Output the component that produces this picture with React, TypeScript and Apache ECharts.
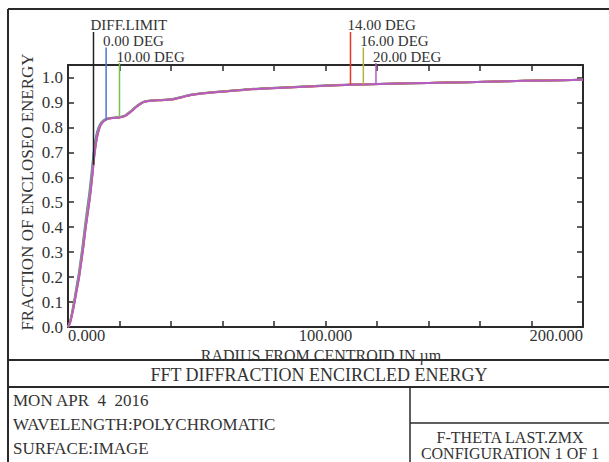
import React, { useEffect, useRef } from "react";
import * as echarts from "echarts";

// Radius from centroid (µm)
const radius = [0, 0.8, 1.6, 2.5, 3.4, 4.3, 5.0, 5.7, 6.3, 6.9, 7.6, 8.3, 9.0, 9.7, 10.4, 11.3, 12.3, 13.3, 14.6, 16, 18, 20, 22, 23.5, 25, 26.3, 28, 29.5, 31.5, 33.5, 36, 39, 41, 44, 46.5, 49, 53, 57, 62, 68, 75, 87.5, 100, 110, 125, 140, 155, 170, 185, 200];

// Fraction of enclosed energy, on-axis field (0.00 DEG)
const energy0 = [0, 0.022, 0.06, 0.112, 0.168, 0.222, 0.275, 0.33, 0.38, 0.43, 0.485, 0.54, 0.605, 0.675, 0.735, 0.782, 0.81, 0.824, 0.833, 0.837, 0.839, 0.841, 0.847, 0.858, 0.871, 0.883, 0.895, 0.903, 0.907, 0.909, 0.91, 0.912, 0.915, 0.922, 0.929, 0.933, 0.938, 0.942, 0.946, 0.951, 0.956, 0.962, 0.968, 0.972, 0.975, 0.978, 0.981, 0.985, 0.988, 0.991];
// 10.00 DEG
const energy10 = [0, 0.02, 0.056, 0.105, 0.158, 0.21, 0.262, 0.315, 0.365, 0.415, 0.467, 0.52, 0.582, 0.652, 0.718, 0.77, 0.805, 0.822, 0.832, 0.837, 0.839, 0.841, 0.846, 0.857, 0.87, 0.882, 0.894, 0.903, 0.907, 0.909, 0.91, 0.912, 0.914, 0.921, 0.928, 0.933, 0.938, 0.942, 0.946, 0.951, 0.956, 0.962, 0.968, 0.971, 0.975, 0.978, 0.981, 0.985, 0.988, 0.991];
// 14.00 / 16.00 DEG
const energy14 = [0, 0.018, 0.053, 0.1, 0.152, 0.203, 0.254, 0.305, 0.355, 0.405, 0.456, 0.508, 0.568, 0.638, 0.706, 0.763, 0.802, 0.82, 0.831, 0.836, 0.838, 0.84, 0.845, 0.856, 0.869, 0.881, 0.893, 0.902, 0.906, 0.908, 0.909, 0.911, 0.913, 0.92, 0.927, 0.932, 0.937, 0.941, 0.945, 0.95, 0.955, 0.961, 0.967, 0.971, 0.975, 0.978, 0.981, 0.985, 0.988, 0.991];
// 20.00 DEG
const energy20 = [0, 0.016, 0.05, 0.096, 0.147, 0.198, 0.248, 0.298, 0.348, 0.398, 0.448, 0.5, 0.56, 0.63, 0.7, 0.76, 0.8, 0.818, 0.83, 0.836, 0.838, 0.84, 0.845, 0.855, 0.868, 0.88, 0.893, 0.902, 0.906, 0.908, 0.909, 0.911, 0.913, 0.92, 0.927, 0.932, 0.937, 0.941, 0.945, 0.95, 0.955, 0.961, 0.967, 0.971, 0.975, 0.978, 0.981, 0.985, 0.988, 0.991];

const seriesNames = ["0.00 DEG", "10.00 DEG", "14.00 DEG", "16.00 DEG", "20.00 DEG"];
const seriesColors = ["#4a78d8", "#78c050", "#e8382c", "#b8b040", "#b45cc4"];

// Marker lines (label rows 0..2)
const markerNames = ["DIFF.LIMIT", "0.00 DEG", "10.00 DEG", "14.00 DEG", "16.00 DEG", "20.00 DEG"];
const markerRadius = [9.9, 14.8, 20.0, 109.7, 114.7, 119.6];
const markerEnergy = [0.65, 0.828, 0.841, 0.972, 0.973, 0.974];
const markerRow = [0, 1, 2, 0, 1, 2];
const markerColors = ["#222222", "#4a78d8", "#78c050", "#e8382c", "#b8b040", "#b45cc4"];

const yTicks = [0, 0.1, 0.2, 0.3, 0.4, 0.5, 0.6, 0.7, 0.8, 0.9, 1.0];
const xLabelValues = [0, 100, 200];

const FONT = "Liberation Serif, DejaVu Serif, serif";
const TXT = "#333333";
const LINE = "#2a2a2a";

export default function App() {
  const ref = useRef<HTMLDivElement>(null);
  useEffect(() => {
    if (!ref.current) return;
    const chart = echarts.init(ref.current, null, { renderer: "svg" });
    const rowTop = [32, 47.5, 63];
    const rowText = [24.5, 40.5, 57];
    const energies = [energy0, energy10, energy14, energy14, energy20];

    const lineSeries = seriesNames.map((name, k) => ({
      type: "line",
      name,
      data: radius.map((r, i) => [r, energies[k][i]]),
      smooth: 0.3,
      showSymbol: false,
      symbol: "none",
      lineStyle: { color: seriesColors[k], width: 2 },
      z: 3 + k,
    }));

    const markerSeries = {
      type: "custom",
      name: "markers",
      clip: false,
      z: 10,
      data: markerRadius.map((r, i) => [r, markerEnergy[i], markerRow[i]]),
      renderItem: (params: any, api: any) => {
        const i = params.dataIndex;
        const p = api.coord([api.value(0), api.value(1)]);
        const row = api.value(2);
        return {
          type: "group",
          children: [
            {
              type: "line",
              shape: { x1: p[0], y1: rowTop[row], x2: p[0], y2: p[1] },
              style: { stroke: markerColors[i], lineWidth: 1.5 },
            },
            {
              type: "text",
              x: p[0] - 3,
              y: rowText[row],
              style: {
                text: markerNames[i],
                fill: TXT,
                fontSize: 15,
                lineHeight: 14,
                fontFamily: FONT,
                align: "left",
                verticalAlign: "middle",
              },
            },
          ],
        };
      },
    };

    const isYTick = (v: number) => yTicks.some((t) => Math.abs(t - v) < 1e-6);
    const axisCommon = {
      axisLine: { show: true, onZero: false, lineStyle: { color: LINE, width: 2 } },
      axisTick: { show: true, inside: true, length: 6, lineStyle: { color: LINE, width: 1.5 } },
      splitLine: { show: false },
    };
    const txt = (x: number, y: number, text: string, size: number, align: string, lh: number, extra: any = {}) => ({
      type: "text",
      x,
      y,
      silent: true,
      ...extra,
      style: { text, fill: TXT, fontSize: size, lineHeight: lh, fontFamily: FONT, align, verticalAlign: "middle" },
    });

    chart.setOption({
      animation: false,
      backgroundColor: "#ffffff",
      grid: { left: 68, right: 26, top: 65, bottom: 135, containLabel: false },
      xAxis: [
        {
          type: "value",
          min: 0,
          max: 200,
          interval: 20,
          position: "bottom",
          ...axisCommon,
          axisLabel: {
            show: true,
            margin: 2,
            fontSize: 16.5,
            lineHeight: 12,
            fontFamily: FONT,
            color: TXT,
            alignMinLabel: "left",
            alignMaxLabel: "right",
            formatter: (v: number) => (xLabelValues.includes(v) ? v.toFixed(3) : ""),
          },
        },
        {
          type: "value",
          min: 0,
          max: 200,
          interval: 20,
          position: "top",
          ...axisCommon,
          axisLabel: { show: false },
        },
      ],
      yAxis: [
        {
          type: "value",
          min: 0,
          max: 1.05,
          interval: 0.1,
          position: "left",
          ...axisCommon,
          axisLabel: {
            show: true,
            margin: 5,
            fontSize: 17,
            lineHeight: 14,
            fontFamily: FONT,
            color: TXT,
            padding: [6, 0, 0, 0],
            formatter: (v: number) => (isYTick(v) ? v.toFixed(1) : ""),
          },
        },
        {
          type: "value",
          min: 0,
          max: 1.05,
          interval: 0.1,
          position: "right",
          ...axisCommon,
          axisLabel: { show: false },
        },
      ],
      series: [...lineSeries, markerSeries],
      graphic: [
        // frame
        { type: "line", silent: true, shape: { x1: 8, y1: 9, x2: 609, y2: 9 }, style: { stroke: LINE, lineWidth: 2 } },
        { type: "line", silent: true, shape: { x1: 8, y1: 9, x2: 8, y2: 462 }, style: { stroke: LINE, lineWidth: 2 } },
        { type: "line", silent: true, shape: { x1: 8, y1: 360, x2: 609, y2: 360 }, style: { stroke: LINE, lineWidth: 2 } },
        { type: "line", silent: true, shape: { x1: 8, y1: 387, x2: 609, y2: 387 }, style: { stroke: LINE, lineWidth: 2 } },
        { type: "line", silent: true, shape: { x1: 410, y1: 387, x2: 410, y2: 462 }, style: { stroke: LINE, lineWidth: 1.5 } },
        { type: "line", silent: true, shape: { x1: 410, y1: 423, x2: 609, y2: 423 }, style: { stroke: LINE, lineWidth: 1.5 } },
        // axis names
        txt(27, 192, "FRACTION OF ENCLOSEO ENERGY", 17, "center", 17, { rotation: Math.PI / 2 }),
        txt(321, 355, "RADIUS FROM CENTROID IN µm", 16, "center", 10),
        // title panel
        txt(319, 375, "FFT DIFFRACTION ENCIRCLED ENERGY", 18, "center", 18),
        txt(13, 400, "MON APR  4  2016", 17, "left", 17),
        txt(13, 424, "WAVELENGTH:POLYCHROMATIC", 17, "left", 17),
        txt(13, 448, "SURFACE:IMAGE", 17, "left", 17),
        txt(510, 437, "F-THETA LAST.ZMX", 16, "center", 13),
        txt(510, 453.5, "CONFIGURATION 1 OF 1", 16, "center", 13),
      ],
    });
    return () => chart.dispose();
  }, []);
  return (
    <div
      ref={ref}
      style={{ position: "absolute", left: 0, top: 0, width: 609, height: 462, background: "#fff" }}
    />
  );
}
